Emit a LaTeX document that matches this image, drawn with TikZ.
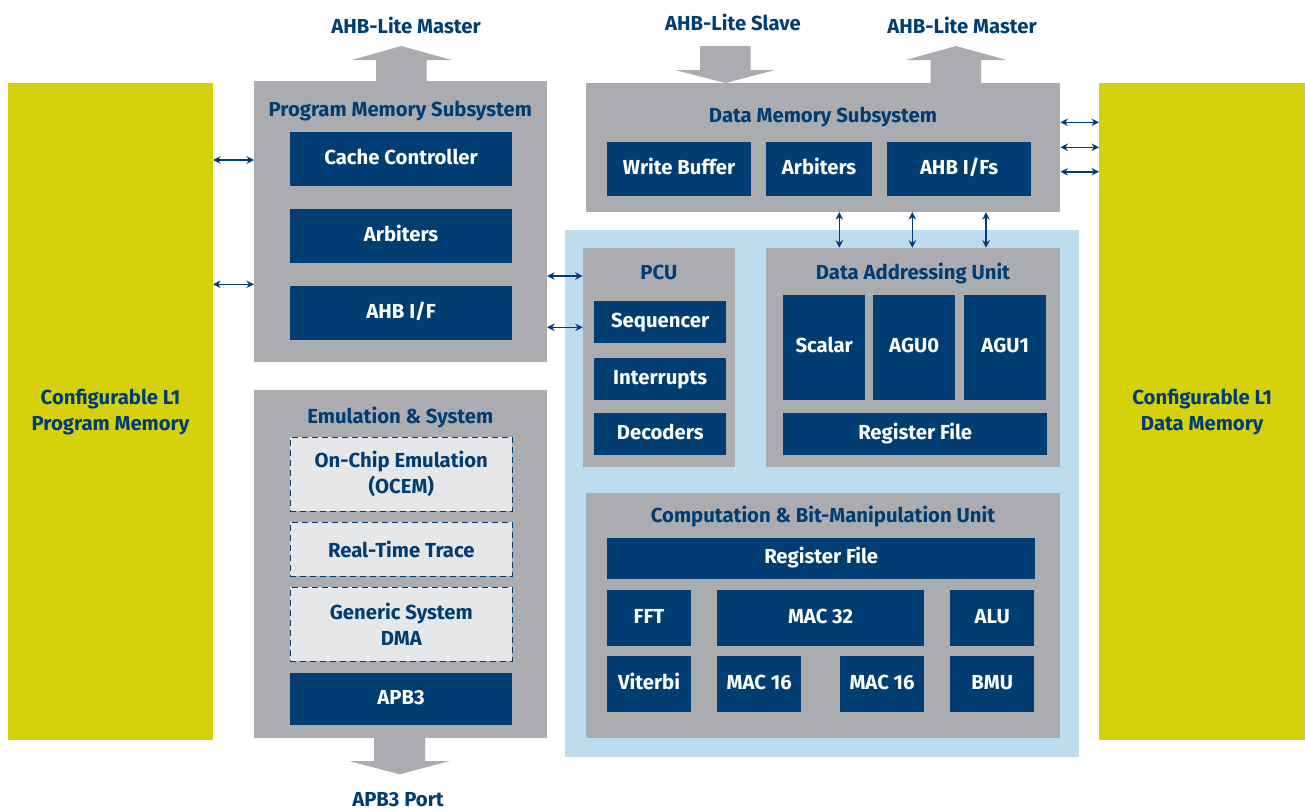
\documentclass[tikz,border=0pt]{standalone}
\usepackage{fontspec}
\setmainfont{Fira Sans}
\usetikzlibrary{arrows.meta,positioning}
\definecolor{dspblue}{RGB}{0,61,115}
\definecolor{dspgray}{RGB}{171,172,176}
\definecolor{dsplight}{RGB}{189,221,238}
\definecolor{dspyellow}{RGB}{214,209,13}
\definecolor{dsppale}{RGB}{230,231,233}

\begin{document}
\begin{tikzpicture}[x=1pt, y=-1pt,
    every node/.style={inner sep=0pt, font=\bfseries\fontsize{20.3}{26}\selectfont},
    mem/.style={fill=dspyellow, text=dspblue, anchor=north west, align=center},
    unit/.style={fill=dspgray, anchor=north west},
    blk/.style={fill=dspblue, text=white, anchor=north west, text height=10.5pt, text depth=0pt},
    dbox/.style={fill=dsppale, draw=dspblue, line width=0.9pt, dash pattern=on 6pt off 4pt, text=dspblue, anchor=north west, align=center},
    title/.style={text=dspblue, anchor=base},
    link/.style={{Stealth[length=7.5pt,width=7.5pt]}-{Stealth[length=7.5pt,width=7.5pt]}, draw=dspblue, line width=1.6pt}]
    \useasboundingbox (0,0) rectangle (1305,811);

    % L1 memories
    \node [mem, minimum width=204.7, minimum height=657] (l1p) at (8,83) {Configurable L1\\Program Memory};
    \node [mem, minimum width=206, minimum height=657] (l1d) at (1099,83) {Configurable L1\\Data Memory};

    % Core area
    \node [fill=dsplight, anchor=north west, minimum width=514, minimum height=526.7] (core) at (565,230) {};

    % Program Memory Subsystem
    \node [unit, minimum width=292.7, minimum height=281] (pm) at (254,81) {};
    \node [title] (pmtitle) at (400.3,116) {Program Memory Subsystem};
    \node [blk, minimum width=221.7, minimum height=53.7] (cache) at (290,132) {Cache Controller};
    \node [blk, minimum width=221.7, minimum height=53.7] (pmarb) at (290,209) {Arbiters};
    \node [blk, minimum width=221.7, minimum height=53.7] (pmahb) at (290,286) {AHB I/F};

    % Emulation & System
    \node [unit, minimum width=292.7, minimum height=348] (emu) at (254,390) {};
    \node [title] (emutitle) at (400.3,423) {Emulation \& System};
    \node [dbox, minimum width=221.7, minimum height=74] (ocem) at (290,436.7) {On-Chip Emulation\\(OCEM)};
    \node [dbox, minimum width=221.7, minimum height=53.7] (rtt) at (290,522) {Real-Time Trace};
    \node [dbox, minimum width=221.7, minimum height=74] (dma) at (290,586.7) {Generic System\\DMA};
    \node [blk, minimum width=221.7, minimum height=52.7] (apb) at (290,672.3) {APB3};

    % Data Memory Subsystem
    \node [unit, minimum width=474, minimum height=129] (dm) at (586,82.7) {};
    \node [title] (dmtitle) at (823,122.5) {Data Memory Subsystem};
    \node [blk, minimum width=143.7, minimum height=53.7] (wbuf) at (607,142) {Write Buffer};
    \node [blk, minimum width=105.7, minimum height=53.7] (dmarb) at (766,142) {Arbiters};
    \node [blk, minimum width=143.7, minimum height=53.7] (dmahb) at (887,142) {AHB I/Fs};

    % PCU
    \node [unit, minimum width=152.3, minimum height=219] (pcu) at (582.7,247.7) {};
    \node [title] (pcutitle) at (658.8,279) {PCU};
    \node [blk, minimum width=132, minimum height=41.7] (seq) at (594,301) {Sequencer};
    \node [blk, minimum width=132, minimum height=41.7] (irq) at (594,358) {Interrupts};
    \node [blk, minimum width=132, minimum height=41.7] (dec) at (594,413) {Decoders};

    % Data Addressing Unit
    \node [unit, minimum width=294, minimum height=219] (dau) at (766,247.7) {};
    \node [title] (dautitle) at (913,279) {Data Addressing Unit};
    \node [blk, minimum width=82, minimum height=104.7] (scalar) at (783,295) {Scalar};
    \node [blk, minimum width=82, minimum height=104.7] (agu0) at (873,295) {AGU0};
    \node [blk, minimum width=82, minimum height=104.7] (agu1) at (964,295) {AGU1};
    \node [blk, minimum width=264, minimum height=41.7] (daurf) at (783,413) {Register File};

    % Computation & Bit-Manipulation Unit
    \node [unit, minimum width=474, minimum height=245] (cbu) at (586,492.7) {};
    \node [title] (cbutitle) at (823,522) {Computation \& Bit-Manipulation Unit};
    \node [blk, minimum width=428, minimum height=41.7] (cburf) at (607,537.3) {Register File};
    \node [blk, minimum width=83.7, minimum height=55.7] (fft) at (607,590) {FFT};
    \node [blk, minimum width=206.7, minimum height=55.7] (mac32) at (717,590) {MAC 32};
    \node [blk, minimum width=84, minimum height=55.7] (alu) at (950,590) {ALU};
    \node [blk, minimum width=83.7, minimum height=55.7] (viterbi) at (607,656) {Viterbi};
    \node [blk, minimum width=84, minimum height=55.7] (maca) at (717,656) {MAC 16};
    \node [blk, minimum width=83.7, minimum height=55.7] (macb) at (840,656) {MAC 16};
    \node [blk, minimum width=84, minimum height=55.7] (bmu) at (950,656) {BMU};

    % Bus arrows
    \fill [dspgray] (376,82) -- (376,60) -- (351.7,60) -- (401.3,46) -- (451.7,60) -- (426.7,60) -- (426.7,82) -- cycle;
    \fill [dspgray] (700,46) -- (750.7,46) -- (750.7,70) -- (775,70) -- (725.5,83) -- (675,70) -- (700,70) -- cycle;
    \fill [dspgray] (930.7,84) -- (930.7,60) -- (905.7,60) -- (956,46) -- (1006.7,60) -- (981,60) -- (981,84) -- cycle;
    \fill [dspgray] (374,737) -- (374,761) -- (349.3,761) -- (399.7,774.3) -- (450,761) -- (425,761) -- (425,737) -- cycle;

    % Bus labels
    \node [title] (pmbus) at (406,33) {AHB-Lite Master};
    \node [title] (slvbus) at (733,30.5) {AHB-Lite Slave};
    \node [title] (dmbus) at (962,33) {AHB-Lite Master};
    \node [title] (apbbus) at (398,806.5) {APB3 Port};

    % Links
    \draw [link] (l1p.east |- 0,160) -- (pm.west |- 0,160);
    \draw [link] (l1p.east |- 0,284.3) -- (pm.west |- 0,284.3);
    \draw [link] (pm.east |- 0,276) -- (pcu.west |- 0,276);
    \draw [link] (pm.east |- 0,327.3) -- (pcu.west |- 0,327.3);
    \draw [link] (dm.south -| 839.3,0) -- (dau.north -| 839.3,0);
    \draw [link] (dm.south -| 912.3,0) -- (dau.north -| 912.3,0);
    \draw [link] (dm.south -| 986,0) -- (dau.north -| 986,0);
    \draw [link] (dm.east |- 0,122.3) -- (l1d.west |- 0,122.3);
    \draw [link] (dm.east |- 0,147.3) -- (l1d.west |- 0,147.3);
    \draw [link] (dm.east |- 0,171.7) -- (l1d.west |- 0,171.7);
\end{tikzpicture}
\end{document}
